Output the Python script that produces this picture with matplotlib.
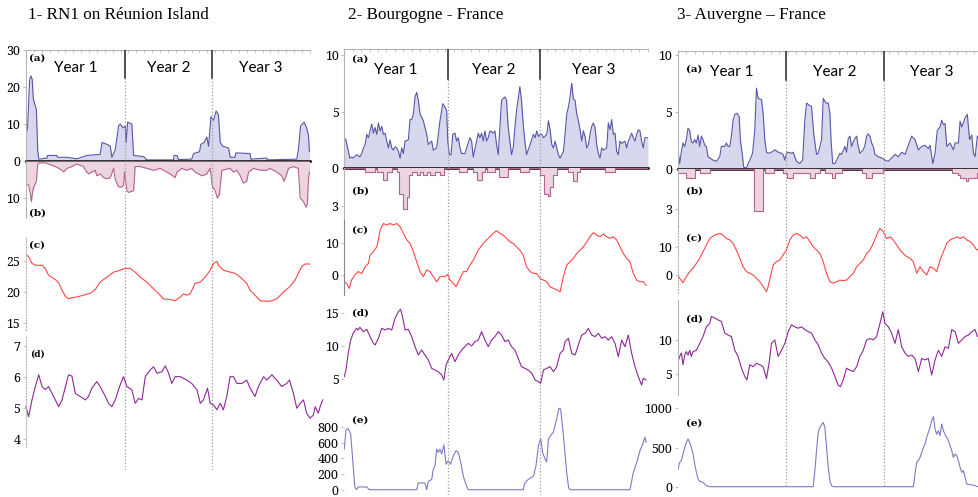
import numpy as np
import matplotlib
matplotlib.use("Agg")
import matplotlib.pyplot as plt

W, H = 979, 497

# ---------------- data (x = day of the 3-year record) ----------------
# 1- RN1 on Reunion Island
p1_year_ends = [380, 719]
p1_a_days = [0, 6, 14, 19, 24, 28, 35, 40, 45, 49, 81, 83, 119, 122, 158, 196, 235, 286, 293, 312,
             325, 331, 344, 357, 363, 374, 383, 386, 392, 408, 415, 453, 466, 569, 571, 582, 588, 639, 646, 669,
             674, 687, 697, 704, 713, 723, 733, 742, 749, 759, 781, 787, 806, 809, 864, 867, 928, 931, 1044, 1050,
             1059, 1072, 1082, 1089, 1093]
p1_a_vals = [7, 9, 22, 23, 22, 17, 15, 14, 3, 0.5, 0.8, 1.5, 1.5, 1.0, 1.0, 0.6, 1.5, 1.8, 5, 4.5,
             4, 1, 3, 9.5, 10, 9, 9.5, 5, 10.5, 10, 1.5, 1.2, 0.3, 0.3, 1.5, 1.5, 0.4, 0.5, 2, 2.5,
             4.5, 5, 6.5, 4, 12, 11, 13.5, 12.5, 5, 4, 3.5, 1, 1, 2.2, 2, 0.5, 0.8, 0.3, 0.5, 3,
             9.5, 10.5, 9, 7, 2.5]
p1_b_days = [0, 10, 17, 21, 24, 30, 40, 45, 49, 74, 94, 113, 126, 139, 145, 158, 177, 196, 222, 229,
             241, 254, 267, 273, 286, 299, 312, 325, 338, 344, 357, 370, 376, 380, 389, 395, 415, 421, 440, 466,
             492, 517, 543, 556, 575, 582, 601, 620, 639, 652, 665, 678, 697, 710, 719, 729, 738, 746, 755, 787,
             800, 813, 826, 838, 851, 858, 877, 903, 928, 941, 967, 986, 995, 1003, 1012, 1031, 1050, 1057, 1070, 1080,
             1085, 1089, 1093]
p1_b_vals = [6, 6.5, 9, 11, 9, 7, 5.5, 1, 0.5, 0.5, 1, 1.5, 2, 2.5, 3, 2, 1.5, 0.8, 1.5, 2.5,
             3.5, 3, 2.5, 4, 3.5, 4.5, 4.8, 4.5, 2, 5, 7, 7, 6.5, 3, 8, 8.5, 8, 1.5, 1.5, 2,
             2.5, 2, 3, 3.5, 4.5, 3, 2, 2.5, 2, 3, 3.5, 4, 3.5, 2, 7, 8, 10, 9, 2.5, 2,
             3, 2.5, 4, 6, 5.5, 3, 2, 2.5, 2.5, 2, 3, 4, 5.5, 4, 2, 1.5, 2, 10, 11, 12.5,
             11.5, 5, 3]
p1_c_days = [0, 10, 23, 36, 62, 74, 87, 113, 126, 139, 152, 164, 177, 196, 222, 248, 267, 286, 312, 338,
             363, 383, 402, 421, 440, 466, 492, 517, 530, 556, 575, 595, 607, 620, 633, 652, 672, 691, 710, 723,
             736, 742, 761, 787, 806, 826, 851, 864, 883, 903, 928, 948, 967, 993, 1018, 1037, 1050, 1063, 1076, 1095]
p1_c_vals = [26.0, 25.7, 24.6, 24.3, 24.3, 23.8, 22.7, 22.0, 21.5, 20.3, 19.3, 18.9, 19.1, 19.2, 19.5, 19.8, 20.4, 21.6, 22.4, 23.2,
             23.5, 23.8, 23.8, 23.2, 22.4, 21.6, 20.5, 19.5, 18.9, 18.8, 18.6, 19.2, 19.7, 19.5, 19.7, 21.4, 21.6, 22.4, 23.5, 24.6,
             24.9, 24.3, 23.5, 23.2, 23.0, 22.4, 21.4, 20.3, 19.5, 18.6, 18.5, 18.6, 18.9, 20.0, 20.9, 21.9, 23.0, 24.1, 24.5, 24.5]
p1_d_days = [0, 10, 23, 36, 49, 62, 74, 87, 100, 113, 126, 139, 152, 164, 177, 190, 209, 229, 241, 254,
             273, 286, 306, 318, 331, 344, 363, 376, 389, 408, 421, 434, 447, 460, 479, 492, 505, 524, 537, 550,
             562, 575, 595, 620, 639, 659, 672, 684, 700, 710, 723, 736, 749, 761, 774, 787, 800, 813, 832, 851,
             864, 883, 896, 916, 928, 948, 967, 986, 1005, 1016, 1031, 1044, 1057, 1070, 1082, 1095, 1108, 1115, 1127, 1134,
             1144]
p1_d_vals = [5.05, 4.73, 5.27, 5.7, 6.08, 5.7, 5.6, 5.7, 5.48, 5.27, 5.05, 5.27, 5.7, 6.08, 6.04, 5.48, 5.38, 5.27, 5.38, 5.65,
             5.86, 5.7, 5.38, 5.16, 5.05, 5.27, 5.75, 6.02, 5.7, 5.6, 5.16, 5.32, 5.27, 6.02, 6.24, 6.34, 6.13, 6.18, 6.37, 6.13,
             5.8, 6.02, 6.02, 5.91, 5.8, 5.6, 5.16, 5.27, 5.65, 5.16, 5.11, 4.95, 5.16, 4.95, 5.38, 6.02, 6.02, 5.8, 5.8, 5.91,
             5.65, 5.38, 5.7, 6.02, 5.91, 6.08, 5.91, 5.7, 5.8, 5.91, 5.48, 5.0, 5.16, 5.27, 4.84, 4.68, 4.78, 5.05, 4.84, 5.05,
             5.27]

# 2- Bourgogne - France
p2_year_ends = [373, 706]
p2_a_days = [0, 6, 14, 20, 26, 32, 44, 56, 63, 69, 75, 81, 87, 93, 99, 105, 111, 117, 123, 129,
             135, 141, 147, 153, 159, 165, 171, 177, 183, 189, 195, 201, 207, 213, 219, 231, 237, 243, 249, 255,
             261, 267, 273, 285, 297, 303, 315, 321, 333, 339, 345, 355, 363, 369, 373, 379, 385, 391, 399, 405,
             411, 417, 423, 435, 441, 453, 459, 465, 477, 483, 489, 495, 501, 507, 513, 519, 525, 537, 543, 549,
             555, 561, 567, 579, 585, 591, 597, 603, 609, 615, 621, 633, 639, 645, 651, 657, 670, 682, 688, 694,
             700, 706, 712, 718, 730, 736, 742, 748, 754, 760, 772, 778, 790, 796, 802, 808, 814, 820, 826, 832,
             838, 844, 850, 856, 862, 868, 874, 880, 886, 892, 898, 904, 910, 916, 922, 928, 934, 946, 952, 958,
             964, 970, 976, 982, 988, 994, 1000, 1012, 1018, 1024, 1036, 1042, 1048, 1054, 1060, 1066, 1072, 1078, 1084, 1095]
p2_a_vals = [2.7, 2.5, 1.6, 0.9, 1.0, 0.9, 1.2, 1.0, 1.3, 1.8, 2.1, 3.0, 2.7, 3.3, 3.9, 3.1, 3.6, 3.0, 4.0, 3.3,
             3.7, 3.0, 3.1, 2.4, 1.8, 2.5, 1.8, 1.6, 1.9, 1.8, 1.5, 0.9, 1.8, 1.3, 2.4, 2.5, 4.3, 4.3, 4.8, 6.3,
             6.7, 6.0, 4.8, 4.2, 3.0, 2.1, 2.4, 1.6, 1.8, 3.0, 4.2, 5.7, 5.4, 5.1, 2.4, 1.2, 1.2, 3.0, 3.1, 2.4,
             2.7, 1.8, 1.3, 1.3, 1.8, 2.7, 2.4, 1.0, 2.4, 3.1, 2.7, 3.1, 2.4, 3.3, 2.4, 2.7, 3.3, 3.1, 3.3, 2.1,
             1.2, 3.6, 6.0, 6.3, 6.0, 3.6, 2.4, 1.2, 1.8, 3.6, 5.1, 7.2, 6.0, 3.9, 2.4, 1.2, 2.1, 3.0, 2.7, 3.3,
             2.8, 3.0, 3.0, 2.7, 3.0, 4.2, 3.4, 2.1, 1.8, 2.4, 1.2, 0.9, 1.5, 3.0, 4.8, 5.4, 6.3, 7.5, 6.1, 6.0,
             4.8, 4.2, 3.4, 2.4, 3.3, 2.8, 1.8, 2.1, 3.0, 3.7, 4.0, 3.6, 2.1, 1.3, 0.9, 1.8, 1.6, 1.8, 4.0, 3.4,
             4.3, 3.0, 3.1, 1.5, 1.2, 2.4, 2.2, 2.4, 1.8, 2.4, 3.1, 2.7, 2.4, 3.0, 3.4, 3.3, 2.4, 1.8, 2.7, 2.7]
p2_b_days = [0, 75, 111, 119, 141, 153, 171, 189, 198, 213, 225, 234, 243, 261, 273, 285, 297, 309, 327, 345,
             359, 415, 441, 465, 477, 495, 507, 513, 543, 559, 591, 633, 667, 706, 721, 733, 742, 751, 766, 808,
             826, 840, 850, 940, 976, 1095]
p2_b_vals = [0, 0.3, 0, 0.3, 0.9, 0.3, 0, 0.3, 2.0, 3.2, 2.3, 0.5, 0.3, 0.5, 0.3, 0.5, 0.3, 0.5, 0.3, 0.5,
             0, 0.3, 0, 0.3, 0.9, 0.3, 0, 0.3, 0, 0.7, 0, 0.3, 0, 0.5, 2.0, 2.2, 1.5, 0.5, 0, 0.3,
             1.0, 0.3, 0, 0.3, 0, 0]
p2_c_days = [0, 8, 18, 26, 38, 50, 63, 75, 87, 93, 105, 117, 123, 129, 141, 153, 165, 177, 189, 201,
             213, 225, 237, 249, 261, 273, 285, 297, 309, 321, 333, 345, 363, 373, 381, 393, 403, 417, 429, 441,
             453, 465, 483, 501, 513, 525, 537, 549, 561, 573, 585, 597, 609, 621, 633, 645, 657, 670, 682, 694,
             706, 718, 730, 742, 754, 766, 778, 790, 802, 814, 826, 838, 850, 862, 874, 886, 898, 910, 922, 934,
             946, 958, 970, 982, 994, 1006, 1018, 1030, 1042, 1054, 1066, 1078, 1088]
p2_c_vals = [-2.1, -2.6, -4.2, -1.6, 0, 1.1, 0.5, 2.6, 3.7, 6.3, 7.4, 8.9, 11.1, 14.2, 16.3, 15.8, 16.3, 15.8, 16.3, 15.3,
             13.2, 11.1, 10.0, 7.4, 4.2, 1.1, -0.5, 1.6, 1.1, -0.5, -2.1, -0.5, -0.5, 0.2, -1.6, -2.6, -3.7, -1.1, 1.1, 1.1,
             3.2, 4.7, 7.9, 10.0, 11.1, 12.1, 13.2, 14.0, 13.2, 12.6, 11.6, 10.5, 10.0, 8.9, 7.9, 6.3, 2.6, 1.1, 0.5, 0.5,
             -1.1, -1.6, -2.1, -3.7, -4.2, -4.7, -5.3, -0.5, 3.2, 4.2, 5.3, 6.8, 7.9, 8.9, 10.5, 12.1, 13.4, 12.6, 12.1, 13.0,
             12.1, 11.6, 12.1, 11.1, 8.9, 6.8, 5.3, 4.2, 0.5, -1.6, -2.1, -2.1, -3.2]
p2_d_days = [0, 6, 14, 23, 32, 44, 50, 56, 69, 81, 93, 105, 111, 123, 135, 147, 159, 171, 183, 195,
             203, 210, 219, 231, 243, 255, 267, 279, 291, 303, 315, 327, 339, 351, 359, 367, 375, 387, 399, 411,
             423, 435, 447, 459, 471, 483, 495, 507, 519, 531, 543, 555, 567, 579, 591, 603, 615, 627, 639, 651,
             663, 676, 688, 700, 708, 718, 730, 742, 754, 766, 778, 790, 796, 808, 820, 832, 844, 856, 868, 880,
             892, 904, 916, 928, 940, 952, 964, 976, 988, 1000, 1012, 1024, 1036, 1048, 1060, 1072, 1078, 1088]
p2_d_vals = [5.4, 6.4, 8.9, 10.9, 11.9, 12.65, 12.4, 12.8, 12.15, 12.5, 11.4, 10.4, 10.15, 11.15, 12.65, 12.4, 12.65, 12.4, 14.15, 15.15,
             15.5, 14.4, 12.4, 12.5, 11.4, 9.9, 8.65, 9.4, 8.65, 7.9, 6.65, 6.4, 6.15, 5.65, 4.9, 7.15, 7.9, 8.9, 7.65, 8.65,
             9.4, 9.9, 10.4, 10.0, 10.65, 10.9, 12.15, 10.9, 9.9, 10.9, 11.4, 12.15, 11.65, 10.65, 10.9, 9.9, 9.4, 8.15, 6.9, 6.65,
             6.4, 5.9, 4.9, 4.65, 4.4, 6.4, 6.65, 6.9, 6.15, 6.9, 8.9, 9.4, 10.65, 11.15, 8.9, 8.65, 10.15, 11.65, 11.9, 12.65,
             11.65, 11.4, 11.9, 11.15, 11.4, 10.9, 11.4, 10.4, 8.4, 10.9, 9.9, 11.65, 8.9, 6.9, 5.4, 4.15, 5.15, 4.9]
p2_e_days = [0, 6, 14, 23, 32, 38, 44, 50, 81, 90, 261, 267, 291, 297, 303, 315, 321, 327, 333, 339,
             345, 351, 359, 367, 375, 383, 393, 403, 411, 420, 429, 441, 447, 645, 651, 663, 682, 691, 700, 708,
             715, 724, 730, 736, 744, 754, 766, 774, 780, 790, 802, 809, 816, 1030, 1042, 1054, 1066, 1076, 1084, 1088]
p2_e_vals = [519, 766, 779, 714, 303, 35, 0, 35, 35, 0, 0, 87, 87, 0, 108, 130, 260, 303, 519, 476,
             519, 455, 571, 325, 368, 325, 433, 498, 476, 346, 173, 43, 0, 0, 87, 130, 173, 303, 563, 649,
             476, 390, 355, 649, 693, 736, 909, 1039, 1030, 693, 216, 22, 0, 0, 216, 346, 498, 584, 671, 606]

# 3- Auvergne - France
p3_year_ends = [390, 739]
p3_a_days = [0, 6, 12, 18, 24, 30, 36, 42, 48, 54, 60, 66, 72, 78, 84, 90, 96, 102, 108, 114,
             126, 138, 150, 156, 168, 174, 180, 186, 192, 198, 204, 212, 220, 224, 232, 236, 246, 252, 258, 268,
             276, 282, 288, 300, 306, 312, 318, 324, 336, 348, 360, 372, 378, 384, 390, 396, 408, 414, 426, 438,
             448, 456, 462, 472, 480, 488, 498, 504, 510, 516, 522, 532, 540, 546, 550, 556, 564, 576, 582, 588,
             600, 606, 612, 618, 624, 630, 636, 642, 648, 654, 666, 672, 678, 684, 690, 696, 702, 708, 720, 732,
             744, 756, 768, 780, 792, 804, 816, 828, 840, 852, 864, 876, 888, 900, 906, 916, 924, 932, 942, 948,
             954, 960, 966, 978, 984, 990, 996, 1008, 1014, 1020, 1032, 1040, 1048, 1056, 1062, 1068, 1076, 1082]
p3_a_vals = [1.7, 0.5, 1.5, 2.3, 2.0, 2.6, 3.6, 3.4, 2.4, 2.3, 2.6, 2.3, 3.0, 2.0, 2.9, 2.6, 2.1, 2.0, 1.1, 1.0,
             0.8, 0.7, 1.1, 2.0, 2.0, 2.3, 2.0, 2.0, 2.9, 4.3, 4.8, 4.9, 4.6, 2.6, 1.1, 0.2, 0.1, 0.5, 0.8, 1.4,
             3.4, 7.1, 6.2, 6.1, 4.9, 2.6, 1.5, 1.4, 1.5, 1.7, 1.5, 1.4, 1.3, 0.8, 1.4, 1.5, 1.4, 1.5, 0.7, 0.5,
             0.8, 4.3, 5.8, 5.6, 5.5, 3.1, 1.3, 1.4, 2.0, 2.6, 6.2, 5.8, 5.8, 4.9, 2.6, 0.5, 0.5, 1.1, 1.4, 1.3,
             2.0, 1.5, 2.7, 2.9, 2.0, 2.4, 2.7, 2.9, 2.0, 1.4, 1.7, 2.1, 2.9, 3.1, 2.9, 2.3, 2.0, 1.3, 1.1, 1.0,
             0.8, 0.7, 1.0, 1.3, 1.1, 1.5, 1.3, 2.1, 2.9, 2.6, 1.7, 2.0, 2.1, 1.8, 2.1, 0.5, 1.4, 3.4, 3.7, 4.3,
             3.9, 4.0, 2.0, 2.3, 2.0, 1.7, 2.3, 2.3, 4.2, 3.7, 4.5, 4.8, 2.6, 3.0, 1.4, 1.1, 2.9, 2.6]
p3_b_days = [0, 30, 62, 78, 114, 272, 306, 312, 344, 378, 392, 414, 474, 492, 510, 528, 552, 564, 588, 660,
             676, 696, 738, 984, 1008, 1014, 1036, 1044, 1074, 1082]
p3_b_vals = [0.3, 0.65, 0, 0.3, 0, 3.1, 0, 0.3, 0, 0.3, 0.65, 0.3, 0.65, 0.3, 0, 0.3, 0.65, 0.3, 0, 0.3,
             0.65, 0.3, 0, 0.3, 0.4, 0.65, 0.9, 0.65, 0.3, 0.3]
p3_c_days = [0, 6, 18, 30, 42, 54, 66, 78, 90, 102, 114, 132, 150, 162, 174, 186, 198, 210, 222, 234,
             246, 258, 270, 282, 294, 306, 318, 324, 332, 342, 354, 366, 378, 390, 402, 414, 426, 438, 450, 462,
             474, 486, 498, 510, 522, 534, 546, 558, 570, 582, 594, 606, 618, 630, 642, 654, 666, 678, 690, 702,
             714, 726, 738, 750, 762, 774, 786, 798, 810, 822, 834, 846, 858, 870, 882, 894, 906, 918, 930, 942,
             954, 966, 978, 990, 1002, 1014, 1026, 1038, 1050, 1062, 1074, 1082]
p3_c_vals = [0, -1.2, -2.7, -0.6, 1.2, 2.4, 4.1, 5.9, 8.2, 10.6, 12.9, 14.1, 14.7, 14.1, 12.9, 12.4, 11.2, 8.8, 5.9, 2.9,
             1.2, 0.6, 0, -1.2, -2.4, -4.1, -5.9, -4.1, -0.6, 3.5, 4.7, 5.3, 7.1, 8.8, 12.4, 14.1, 14.7, 14.1, 12.9, 13.5,
             11.8, 10.0, 8.8, 7.6, 4.7, 0.6, -2.4, -2.9, -2.4, -1.8, -2.0, -1.8, -0.6, 0.6, 2.9, 4.1, 5.3, 7.6, 8.8, 11.2,
             14.1, 16.5, 15.3, 12.9, 13.5, 12.4, 10.6, 8.8, 7.6, 6.5, 5.9, 4.7, 0.6, 2.9, 1.2, 0, 2.9, 2.4, 1.2, 5.3,
             8.2, 11.2, 12.4, 12.9, 13.5, 12.9, 13.5, 12.4, 11.8, 10.6, 8.8, 9.4]
p3_d_days = [0, 6, 12, 18, 24, 30, 36, 42, 48, 54, 66, 78, 90, 102, 114, 120, 132, 144, 156, 168,
             180, 192, 204, 216, 228, 240, 248, 258, 270, 282, 294, 306, 318, 328, 336, 348, 360, 372, 384, 396,
             408, 420, 432, 444, 456, 468, 480, 492, 504, 516, 528, 540, 552, 564, 576, 584, 594, 606, 618, 630,
             642, 654, 666, 678, 690, 702, 714, 726, 736, 744, 756, 768, 780, 792, 804, 816, 828, 840, 852, 864,
             876, 888, 900, 912, 924, 936, 948, 960, 972, 984, 996, 1008, 1020, 1032, 1044, 1056, 1068, 1076, 1082]
p3_d_vals = [6.8, 7.6, 8.1, 6.4, 7.8, 8.3, 7.8, 8.5, 7.6, 8.3, 8.5, 9.5, 10.5, 11.9, 12.4, 13.4, 13.2, 12.9, 12.7, 11.0,
             10.7, 10.5, 8.5, 7.6, 5.9, 4.7, 4.2, 6.4, 6.1, 6.6, 6.4, 6.1, 4.4, 6.8, 9.5, 10.0, 7.6, 8.5, 9.5, 11.2,
             12.2, 11.9, 11.7, 11.9, 11.5, 11.2, 11.0, 10.0, 9.3, 8.1, 7.3, 6.8, 5.9, 4.7, 3.4, 3.2, 4.2, 5.9, 5.6, 5.4,
             6.1, 7.6, 8.5, 10.0, 10.2, 10.0, 10.5, 12.4, 14.1, 12.4, 11.9, 11.0, 9.5, 11.5, 9.0, 8.1, 7.6, 7.8, 7.3, 5.4,
             7.3, 7.1, 7.3, 4.9, 7.1, 8.5, 7.6, 9.0, 8.8, 11.5, 11.2, 9.5, 10.0, 10.5, 10.7, 11.2, 11.5, 10.5, 10.6]
p3_e_days = [0, 6, 12, 18, 30, 36, 42, 48, 54, 60, 66, 72, 78, 90, 102, 114, 486, 492, 498, 504,
             510, 522, 528, 534, 540, 546, 552, 558, 846, 852, 858, 864, 870, 876, 882, 888, 894, 900, 906, 912,
             918, 924, 930, 936, 942, 948, 954, 960, 966, 972, 978, 984, 990, 996, 1002, 1008, 1014, 1020, 1026, 1032,
             1038, 1050, 1062, 1074, 1082]
p3_e_vals = [226, 311, 332, 417, 566, 609, 566, 502, 417, 289, 183, 98, 68, 55, 13, 0, 0, 204, 460, 694,
             757, 821, 757, 502, 247, 77, 13, 0, 0, 162, 311, 332, 374, 438, 502, 545, 630, 694, 757, 843,
             894, 736, 668, 715, 651, 800, 715, 668, 630, 587, 523, 460, 374, 417, 396, 332, 247, 183, 204, 119,
             34, 26, 21, 4, 0]

# ---------------- style ----------------
TITLE_FONT = ["Liberation Serif", "DejaVu Serif"]
TICK_FONT = ["Noto Serif", "DejaVu Serif"]
LABEL_FONT = ["DejaVu Serif"]
YEAR_FONT = ["Lato", "DejaVu Sans"]
plt.rcParams["font.family"] = TICK_FONT
BLUE_LINE, BLUE_FILL = "#5757a8", "#d7d8ed"
PINK_LINE, PINK_FILL = "#b3648e", "#ecd5e1"
RED = "#ff4646"
PURPLE = "#8e2898"
E_BLUE = "#7b7bc6"
GRID = "#b5b5b5"

fig = plt.figure(figsize=(W / 100, H / 100), dpi=100)


def box(x0, x1, y0, y1):
    # pixel box -> figure fraction
    return [x0 / W, 1 - y1 / H, (x1 - x0) / W, (y1 - y0) / H]


def new_ax(x0, x1, y0, y1, xmax, ylim, yticks, ylabels=None, spine_ls="-", spine_c=GRID):
    ax = fig.add_axes(box(x0, x1, y0, y1))
    ax.patch.set_alpha(0)
    ax.set_xlim(0, xmax)
    ax.set_ylim(*ylim)
    for s in ("top", "right", "bottom"):
        ax.spines[s].set_visible(False)
    ax.spines["left"].set_color(spine_c)
    ax.spines["left"].set_linewidth(0.8)
    ax.spines["left"].set_linestyle(spine_ls)
    ax.set_xticks([])
    ax.set_yticks(yticks)
    if ylabels is not None:
        ax.set_yticklabels(ylabels)
    ax.tick_params(axis="y", length=2, width=0.6, color=GRID, pad=2, labelsize=9)
    for t in ax.get_yticklabels():
        t.set_fontfamily(TICK_FONT)
    return ax


def panel(x0, x1, xmax, top, a_bot, b_bot, a_ylim, b_ylim, a_ticks, b_ticks,
          a_days, a_vals, b_days, b_vals, b_steps, year_ends, solid_bot, dot_bot, year_y):
    ax_a = new_ax(x0, x1, top, a_bot, xmax, a_ylim, a_ticks)
    ax_a.fill_between(a_days, a_vals, 0, color=BLUE_FILL, lw=0)
    ax_a.plot(a_days, a_vals, color=BLUE_LINE, lw=0.8)
    ax_a.axhline(0, color="black", lw=1.8, clip_on=False, zorder=5)
    # grey top rule with small ticks
    ax_a.spines["top"].set_visible(True)
    ax_a.spines["top"].set_color(GRID)
    ax_a.xaxis.set_ticks_position("top")
    ax_a.set_xticks(np.arange(0, xmax, 30.4))
    ax_a.set_xticklabels([])
    ax_a.tick_params(axis="x", length=2, width=0.5, color=GRID, direction="in")

    ax_b = new_ax(x0, x1, a_bot, b_bot, xmax, b_ylim, [-t for t in b_ticks], [str(t) for t in b_ticks])
    neg = [-v for v in b_vals]
    if b_steps:
        ax_b.fill_between(b_days, neg, 0, step="post", color=PINK_FILL, lw=0)
        ax_b.step(b_days, neg, where="post", color=PINK_LINE, lw=0.8)
    else:
        ax_b.fill_between(b_days, neg, 0, color=PINK_FILL, lw=0)
        ax_b.plot(b_days, neg, color=PINK_LINE, lw=0.8)

    # year separators
    fr = fig.add_axes(box(x0, x1, top, dot_bot))
    fr.set_xlim(0, xmax)
    fr.set_ylim(0, 1)
    fr.axis("off")
    cut = 1 - (solid_bot - top) / (dot_bot - top)
    for xe in year_ends:
        fr.axvline(xe, ymin=cut, ymax=1, color="#222222", lw=1.1)
        fr.axvline(xe, ymin=0, ymax=cut, color="#9a9a9a", lw=0.9, ls=":")
    edges = [0] + list(year_ends) + [xmax]
    for i in range(3):
        fr.text((edges[i] + edges[i + 1]) / 2, 1 - (year_y - top) / (dot_bot - top), "Year %d" % (i + 1),
                ha="center", va="center", fontsize=11, family=YEAR_FONT)
    return ax_a, ax_b


def label(x, y, s, size=7.5, weight="bold"):
    fig.text(x / W, 1 - y / H, s, fontsize=size, fontweight=weight, va="center", ha="left",
             family=LABEL_FONT)


def title(x, s):
    fig.text(x / W, 1 - 15 / H, s, fontsize=12.3, va="center", family=TITLE_FONT)


# ---------------- panel 1 ----------------
P1 = (26, 310, 1095)
title(28, "1- RN1 on Réunion Island")
panel(P1[0], P1[1], P1[2], 50, 161, 218, (0, 30), (-15.4, 0), [0, 10, 20, 30], [10],
      p1_a_days, p1_a_vals, p1_b_days, p1_b_vals, False, p1_year_ends, 78, 470, 68)
ax = new_ax(P1[0], P1[1], 236, 330, P1[2], (13.9, 29.0), [15, 20, 25], spine_ls=":")
ax.plot(p1_c_days, p1_c_vals, color=RED, lw=0.8)
ax = new_ax(P1[0], P1[1], 337, 447, P1[2], (3.75, 7.3), [4, 5, 6, 7], spine_ls=":")
ax.plot(p1_d_days, p1_d_vals, color=PURPLE, lw=0.8, clip_on=False)
label(29, 58, "(a)")
label(29, 213, "(b)")
label(29, 245, "(c)")
label(30, 354, "(d)", size=6.5)

# ---------------- panel 2 ----------------
P2 = (344.3, 648, 1095)
title(348, "2- Bourgogne - France")
panel(P2[0], P2[1], P2[2], 49, 168.3, 225, (0, 10.53), (-4.5, 0), [0, 5, 10], [3],
      p2_a_days, p2_a_vals, p2_b_days, p2_b_vals, True, p2_year_ends, 79, 495, 70)
ax = new_ax(P2[0], P2[1], 220, 295, P2[2], (-6.3, 17.4), [0, 10], spine_c="#888888")
ax.plot(p2_c_days, p2_c_vals, color=RED, lw=0.8)
ax = new_ax(P2[0], P2[1], 300, 388, P2[2], (3.7, 16.9), [5, 10, 15], spine_c="none")
ax.plot(p2_d_days, p2_d_vals, color=PURPLE, lw=0.8)
ax = new_ax(P2[0], P2[1], 404, 493, P2[2], (-42, 1094), [0, 200, 400, 600, 800], spine_c="none")
ax.plot(p2_e_days, p2_e_vals, color=E_BLUE, lw=0.8)
label(352, 59, "(a)")
label(352, 191, "(b)")
label(352, 230, "(c)")
label(352, 313, "(d)")
label(352, 420, "(e)")

# ---------------- panel 3 ----------------
P3 = (678, 979, 1082)
title(677, "3- Auvergne – France")
panel(P3[0], P3[1], P3[2], 51, 169.3, 228, (0, 10.35), (-4.4, 0), [0, 5, 10], [3],
      p3_a_days, p3_a_vals, p3_b_days, p3_b_vals, True, p3_year_ends, 80, 486, 72)
ax = new_ax(P3[0], P3[1], 225, 293, P3[2], (-6.36, 17.67), [0, 10], spine_ls=":")
ax.plot(p3_c_days, p3_c_vals, color=RED, lw=0.8)
ax = new_ax(P3[0], P3[1], 300, 395, P3[2], (2.0, 15.8), [5, 10])
ax.plot(p3_d_days, p3_d_vals, color=PURPLE, lw=0.8)
ax = new_ax(P3[0], P3[1], 400, 490, P3[2], (-42, 1106), [0, 500, 1000], spine_c="none")
ax.plot(p3_e_days, p3_e_vals, color=E_BLUE, lw=0.8)
label(686, 69, "(a)")
label(686, 191, "(b)")
label(686, 238, "(c)")
label(686, 319, "(d)")
label(686, 423, "(e)")

fig.savefig("out.png", dpi=100)
